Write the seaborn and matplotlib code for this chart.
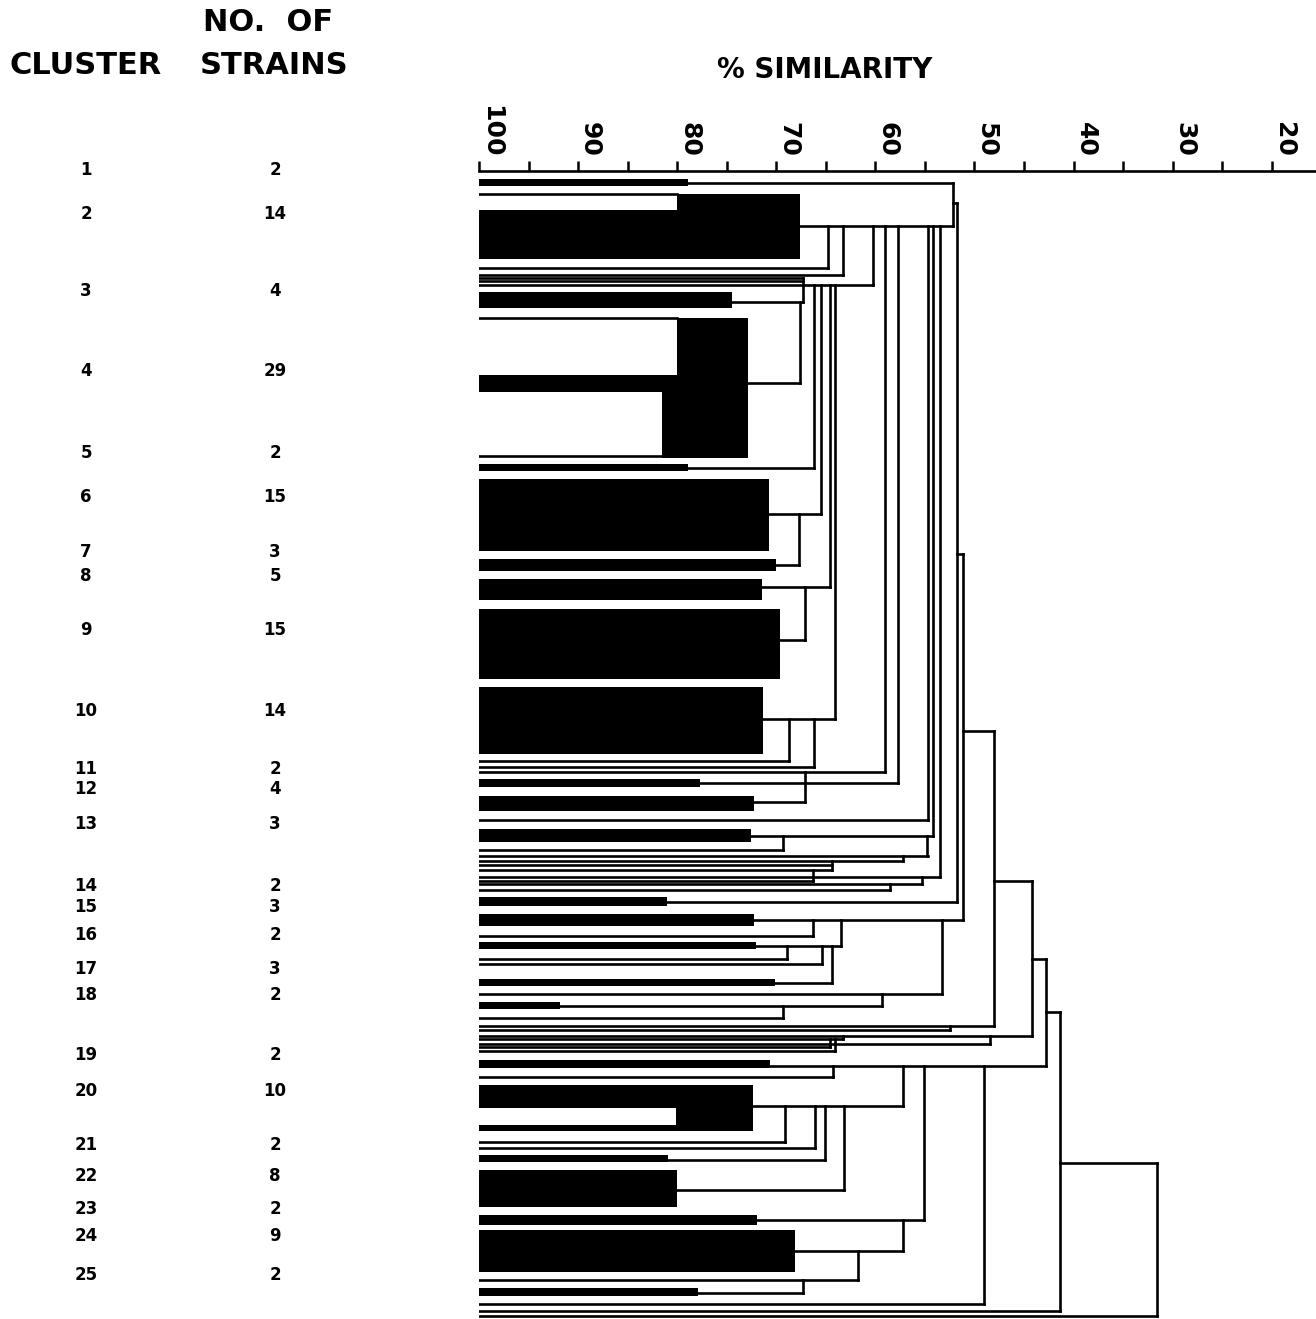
import matplotlib
matplotlib.use("Agg")
import matplotlib.pyplot as plt
import pandas as pd
import seaborn as sns

# % similarity axis (ticks every 5, labels every 10)
sim_ticks = list(range(100, 15, -5))

# cluster table on the left
cluster_ids = list(range(1, 26))
strain_counts = [2, 14, 4, 29, 2, 15, 3, 5, 15, 14, 2, 4, 3, 2, 3, 2, 3, 2, 2, 10, 2, 8, 2, 9, 2]
cluster_pos = [-0.2, 8.6, 24.0, 40.0, 56.4, 65.4, 76.4, 81.2, 92.0, 108.2, 119.8, 123.8, 130.8,
               143.2, 147.4, 153.0, 159.8, 165.0, 177.2, 184.4, 195.2, 201.4, 208.0, 213.4, 221.2]

# black cluster blocks: position along strain order (top/bottom), similarity span
block_top = [1.6, 4.6, 7.8, 24.2, 29.4, 40.8, 44.2, 58.8, 61.8, 77.8, 81.8, 87.8, 103.4, 121.8,
             125.2, 131.8, 145.4, 148.8, 154.4, 161.8, 166.4, 178.2, 183.2, 187.8, 191.2, 197.2,
             200.2, 209.2, 212.2, 223.8]
block_bottom = [3.0, 17.6, 17.6, 27.4, 57.4, 44.2, 57.4, 60.2, 76.2, 80.2, 86.0, 101.8, 116.8, 123.4,
                128.2, 134.4, 147.2, 151.2, 155.8, 163.2, 167.8, 179.8, 187.8, 192.4, 192.4, 198.6,
                207.6, 211.2, 220.6, 225.4]
block_from = [100, 80.0, 100, 100, 80.0, 100, 81.5, 100, 100, 100, 100, 100, 100, 100,
              100, 100, 100, 100, 100, 100, 100, 100, 100, 80.1, 100, 100,
              100, 100, 100, 100]
block_to = [78.9, 67.6, 80.0, 74.5, 72.9, 80.0, 80.0, 78.9, 70.7, 70.0, 71.4, 69.6, 71.3, 77.7,
            72.3, 72.6, 81.0, 72.2, 72.0, 70.1, 91.8, 70.6, 72.4, 72.4, 80.1, 80.9,
            80.0, 71.9, 68.1, 77.9]

# strain / cluster lines running from 100 % to their joining level
leaf_pos = [2.4, 4.6, 11.0, 19.4, 20.8, 21.4, 22.0, 22.8, 26.2, 29.4, 42.4, 57.0, 59.6, 68.8,
            79.0, 83.4, 94.0, 109.8, 118.2, 119.4, 120.4, 122.6, 126.4, 130.0, 133.2, 136.0,
            137.2, 138.2, 139.0, 140.0, 141.4, 142.2, 142.8, 144.0, 146.4, 150.0, 153.2, 155.2,
            157.8, 158.8, 162.6, 164.8, 167.2, 169.6, 171.2, 172.0, 173.4, 174.0, 175.0, 175.6,
            176.4, 179.4, 181.6, 187.4, 194.6, 195.8, 198.2, 204.2, 210.2, 216.4, 222.2, 224.8,
            227.0, 228.4, 229.4]
leaf_join = [52.2, 80.0, 52.2, 64.8, 63.3, 67.3, 67.3, 60.2, 67.3, 80.0, 67.6, 81.5, 66.2, 65.5,
             67.7, 64.6, 67.1, 64.1, 68.7, 66.2, 59.0, 57.7, 67.1, 54.7, 54.2, 69.3,
             54.7, 57.2, 64.4, 64.4, 53.5, 66.3, 55.3, 58.5, 51.8, 51.2, 66.3, 63.5,
             68.9, 65.4, 64.4, 53.3, 59.3, 69.3, 48.0, 52.5, 44.2, 63.3, 48.4, 64.6,
             64.1, 42.8, 64.3, 57.2, 69.1, 66.1, 65.1, 63.2, 55.1, 57.2, 61.8, 67.3,
             49.0, 41.4, 31.6]

# short horizontal steps between the main stems on the right
step_pos = [6.4, 76.8, 112.2, 142.2, 157.8, 168.4, 198.8]
step_from = [52.2, 51.8, 51.2, 48.0, 44.2, 42.8, 41.4]
step_to = [51.8, 51.2, 48.0, 44.2, 42.8, 41.4, 31.6]

# vertical joins: similarity level, from position, to position
join_sim = [52.2, 51.8, 64.8, 63.3, 60.2, 59.0, 57.7, 54.7, 54.2, 53.5, 67.3, 67.6, 66.2, 65.5,
            64.6, 64.1, 67.7, 67.1, 68.7, 66.2, 67.1, 54.8, 69.3, 57.2, 64.4, 66.3, 55.3, 58.5,
            51.2, 48.0, 66.3, 63.5, 53.3, 68.9, 65.4, 64.4, 59.3, 69.3, 44.2, 52.5, 63.3, 48.4,
            64.6, 64.1, 42.8, 41.4, 31.6, 64.3, 57.2, 55.1, 49.0, 69.1, 66.1, 65.1, 63.2, 57.2,
            61.8, 67.3]
join_top = [2.4, 6.4, 11.0, 11.0, 11.0, 11.0, 11.0, 11.0, 11.0, 11.0, 21.4, 26.2, 22.8, 22.8,
            22.8, 22.8, 68.8, 83.4, 109.8, 109.8, 120.4, 133.2, 133.2, 137.2, 138.2, 140.0, 141.4, 142.8,
            76.8, 112.2, 150.0, 150.0, 150.0, 155.2, 155.2, 155.2, 164.8, 167.2, 142.2, 171.2, 173.4, 173.4,
            174.0, 174.0, 157.8, 168.4, 198.8, 179.4, 179.4, 179.4, 179.4, 187.4, 187.4, 187.4, 187.4, 210.2,
            216.4, 222.2]
join_bottom = [11.0, 146.4, 19.4, 20.8, 22.8, 120.4, 122.6, 130.0, 133.2, 141.4, 26.2, 42.4, 59.6, 68.8,
               83.4, 109.8, 79.0, 94.0, 118.2, 119.4, 126.4, 137.2, 136.0, 138.2, 140.0, 142.2, 142.8, 144.0,
               150.0, 171.2, 153.2, 155.2, 164.8, 157.8, 158.8, 162.6, 167.2, 169.6, 173.4, 172.0, 174.0, 175.0,
               175.6, 176.4, 179.4, 228.4, 229.4, 181.6, 187.4, 210.2, 227.0, 194.6, 195.8, 198.2, 204.2, 216.4,
               222.2, 224.8]


def build_segments():
    rows = []
    for i, (p, s) in enumerate(zip(leaf_pos, leaf_join)):
        rows += [(f"l{i}", 100, p), (f"l{i}", s, p)]
    for i, (p, a, b) in enumerate(zip(step_pos, step_from, step_to)):
        rows += [(f"s{i}", a, p), (f"s{i}", b, p)]
    for i, (s, a, b) in enumerate(zip(join_sim, join_top, join_bottom)):
        rows += [(f"j{i}", s, a), (f"j{i}", s, b)]
    return pd.DataFrame(rows, columns=["seg", "similarity", "position"])


def main():
    sns.set_style("white")
    plt.rcParams["font.family"] = ["DejaVu Sans"]
    plt.rcParams["axes.edgecolor"] = "black"
    plt.rcParams["xtick.color"] = "black"
    plt.rcParams["text.color"] = "black"

    fig = plt.figure(figsize=(13.16, 13.19), dpi=100)
    ax = fig.add_axes([479 / 1316, 0, 837 / 1316, 1148 / 1319])

    ax.barh(y=[(t + b) / 2 for t, b in zip(block_top, block_bottom)],
            width=[f - t for f, t in zip(block_from, block_to)],
            left=block_to,
            height=[b - t for t, b in zip(block_top, block_bottom)],
            color="black", linewidth=0)

    segs = build_segments()
    sns.lineplot(data=segs, x="similarity", y="position", units="seg",
                 estimator=None, sort=False, color="black", linewidth=1.9,
                 solid_capstyle="projecting", ax=ax)

    ax.set_xlim(100, 100 - 837 / 9.91)
    ax.set_ylim(230, 0)
    ax.set(xlabel="", ylabel="")
    for side in ["left", "right", "bottom"]:
        ax.spines[side].set_visible(False)
    ax.spines["top"].set_linewidth(1.9)

    ax.xaxis.tick_top()
    ax.set_xticks(sim_ticks)
    ax.set_xticklabels([str(t) if t % 10 == 0 else "" for t in sim_ticks],
                       rotation=270, ha="left", va="bottom",
                       fontsize=18, fontweight="bold", color="black")
    ax.tick_params(axis="x", direction="out", length=7, width=1.8, pad=3,
                   top=True, bottom=False, labeltop=True, labelbottom=False)
    ax.set_yticks([])

    tr = ax.get_yaxis_transform()
    for cid, cnt, p in zip(cluster_ids, strain_counts, cluster_pos):
        ax.text(-0.4695, p, str(cid), transform=tr, ha="center", va="center",
                fontsize=12, fontweight="bold", color="black", clip_on=False)
        ax.text(-0.2437, p, str(cnt), transform=tr, ha="center", va="center",
                fontsize=12, fontweight="bold", color="black", clip_on=False)

    fig.text(0.2036, 0.9833, "NO.  OF", ha="center", va="center",
             fontsize=22, fontweight="bold", color="black")
    fig.text(0.0653, 0.9507, "CLUSTER", ha="center", va="center",
             fontsize=22, fontweight="bold", color="black")
    fig.text(0.2082, 0.9507, "STRAINS", ha="center", va="center",
             fontsize=22, fontweight="bold", color="black")
    fig.text(0.6269, 0.9469, "% SIMILARITY", ha="center", va="center",
             fontsize=20, fontweight="bold", color="black")

    fig.savefig("out.png", dpi=100)


if __name__ == "__main__":
    main()
